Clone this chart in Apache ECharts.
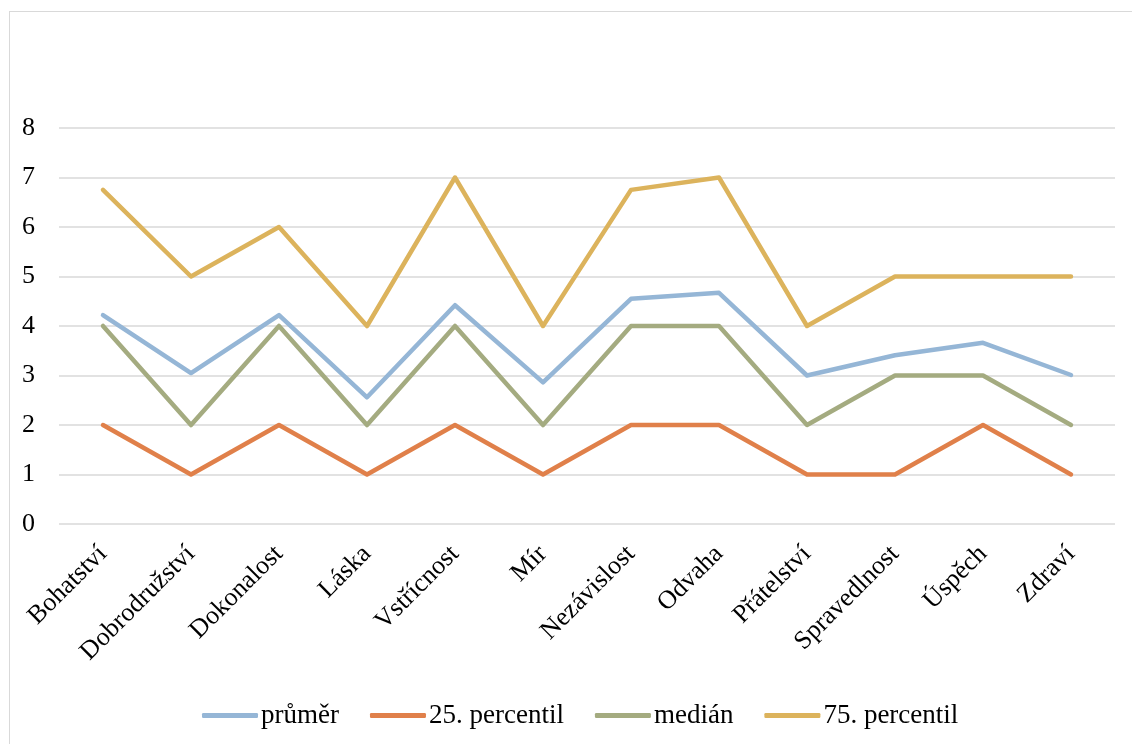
<!DOCTYPE html>
<html>
<head>
<meta charset="utf-8">
<script src="https://cdn.jsdelivr.net/npm/echarts@6/dist/echarts.min.js"></script>
<style>
html,body{margin:0;padding:0;background:#fff;}
#frame{position:absolute;left:9px;top:11px;width:1200px;height:800px;border-left:1.5px solid #d9d9d9;border-top:1.5px solid #d9d9d9;}
#chart{position:absolute;left:0;top:0;width:1132px;height:744px;}
</style>
</head>
<body>
<div id="frame"></div>
<div id="chart"></div>
<script>
const categories = ['Bohatství','Dobrodružství','Dokonalost','Láska','Vstřícnost','Mír','Nezávislost','Odvaha','Přátelství','Spravedlnost','Úspěch','Zdraví'];
const prumer = [4.22, 3.05, 4.22, 2.56, 4.42, 2.86, 4.55, 4.67, 3.0, 3.41, 3.66, 3.01];
const p25 = [2, 1, 2, 1, 2, 1, 2, 2, 1, 1, 2, 1];
const median = [4, 2, 4, 2, 4, 2, 4, 4, 2, 3, 3, 2];
const p75 = [6.75, 5, 6, 4, 7, 4, 6.75, 7, 4, 5, 5, 5];
const seriesNames = ['průměr', '25. percentil', 'medián', '75. percentil'];
const colors = ['#95b6d6', '#e0804a', '#a4ab80', '#dcb35c'];
const yTicks = [0, 8, 1];

const font = '"Liberation Serif", "Times New Roman", serif';
const chart = echarts.init(document.getElementById('chart'), null, {renderer: 'canvas'});
const datasets = [prumer, p25, median, p75];
chart.setOption({
  animation: false,
  color: colors,
  grid: {left: 59, right: 17, top: 128, bottom: 220, containLabel: false},
  legend: {
    top: 697, left: 197, padding: 5,
    itemWidth: 56, itemHeight: 5, itemGap: 31,
    icon: 'roundRect',
    textStyle: {fontFamily: font, fontSize: 27, color: '#000', padding: [0,0,0,-2]},
    data: seriesNames
  },
  xAxis: {
    type: 'category', data: categories, boundaryGap: true,
    axisLine: {show: false}, axisTick: {show: false},
    axisLabel: {rotate: 45, interval: 0, margin: 26, fontFamily: font, fontSize: 26, color: '#000'}
  },
  yAxis: {
    type: 'value', min: yTicks[0], max: yTicks[1], interval: yTicks[2],
    axisLine: {show: false}, axisTick: {show: false},
    splitLine: {lineStyle: {color: '#d9d9d9', width: 1.5}},
    axisLabel: {margin: 24, fontFamily: font, fontSize: 26, color: '#000'}
  },
  series: datasets.map((d, i) => ({
    name: seriesNames[i], type: 'line', data: d,
    symbol: 'none', lineStyle: {width: 4.5, cap: 'round', join: 'round'}
  }))
});
</script>
</body>
</html>
